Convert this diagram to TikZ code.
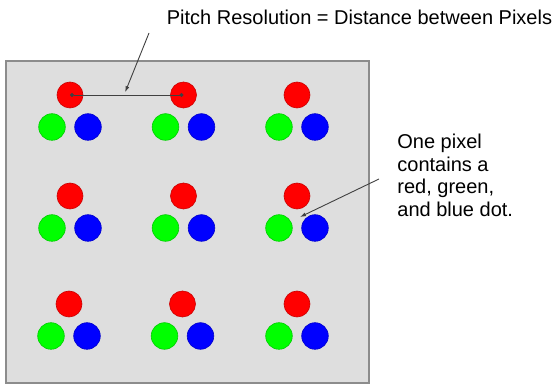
\documentclass[tikz,border=0pt]{standalone}
\usepackage{fontspec}
\setmainfont{Liberation Sans}
\usetikzlibrary{arrows.meta}

\definecolor{screengray}{HTML}{DEDEDE}
\definecolor{screenedge}{HTML}{8C8C8C}
\definecolor{dotred}{HTML}{FF0000}
\definecolor{dotgreen}{HTML}{00FF00}
\definecolor{dotblue}{HTML}{0000FF}

\begin{document}
\begin{tikzpicture}[x=0.5pt,y=-0.5pt]
\tikzstyle{reddot}=[circle,fill=dotred,draw=dotred!80!black,line width=0.3pt,minimum size=13pt,inner sep=0pt]
\tikzstyle{greendot}=[circle,fill=dotgreen,draw=dotgreen!80!black,line width=0.3pt,minimum size=13.3pt,inner sep=0pt]
\tikzstyle{bluedot}=[circle,fill=dotblue,draw=dotblue!80!black,line width=0.3pt,minimum size=13.3pt,inner sep=0pt]
\tikzstyle{pointer}=[draw=black!75,line width=0.45pt,-{Latex[length=3pt,width=2pt]}]
\tikzstyle{label}=[font=\fontsize{10}{11.35}\selectfont,inner sep=0pt,align=left]

\useasboundingbox (0,0) rectangle (559,385);

%screen.
\draw[screenedge,fill=screengray,line width=0.6pt] (6,61) rectangle (369,383);

%row 1.
\node[reddot]   (red_1_1)   at (70,95)    {};
\node[greendot] (green_1_1) at (52,127)   {};
\node[bluedot]  (blue_1_1)  at (88,127)   {};
\node[reddot]   (red_1_2)   at (183.5,95) {};
\node[greendot] (green_1_2) at (165.5,127){};
\node[bluedot]  (blue_1_2)  at (201.5,127){};
\node[reddot]   (red_1_3)   at (297,95)   {};
\node[greendot] (green_1_3) at (279,127)  {};
\node[bluedot]  (blue_1_3)  at (315,127)  {};

%row 2.
\node[reddot]   (red_2_1)   at (70,196)    {};
\node[greendot] (green_2_1) at (52,228)    {};
\node[bluedot]  (blue_2_1)  at (88,228)    {};
\node[reddot]   (red_2_2)   at (183.5,196) {};
\node[greendot] (green_2_2) at (165.5,228) {};
\node[bluedot]  (blue_2_2)  at (201.5,228) {};
\node[reddot]   (red_2_3)   at (297,196)   {};
\node[greendot] (green_2_3) at (279,228)   {};
\node[bluedot]  (blue_2_3)  at (315,228)   {};

%row 3.
\node[reddot]   (red_3_1)   at (69,304)    {};
\node[greendot] (green_3_1) at (51,336)    {};
\node[bluedot]  (blue_3_1)  at (87,336)    {};
\node[reddot]   (red_3_2)   at (182.5,304) {};
\node[greendot] (green_3_2) at (164.5,336) {};
\node[bluedot]  (blue_3_2)  at (200.5,336) {};
\node[reddot]   (red_3_3)   at (297,304)   {};
\node[greendot] (green_3_3) at (279,336)   {};
\node[bluedot]  (blue_3_3)  at (315,336)   {};

%pitch.
\draw[black!75,line width=0.45pt,{Circle[length=2pt]}-{Circle[length=2pt]}] (red_1_1.center) -- (red_1_2.center) coordinate[pos=0.476] (pitch_mid);
\node[label,anchor=base west] (pitch_text) at (166.5,25) {Pitch Resolution = Distance between Pixels};
\coordinate (pitch_from) at (149,33);
\draw[pointer,shorten >=1.5pt] (pitch_from) -- (pitch_mid);

%one pixel.
\node[label,anchor=north west] (pixel_text) at (397,133.5) {One pixel\\contains a\\red, green,\\and blue dot.};
\coordinate (pixel_from) at (379,179);
\coordinate (pixel_to) at (300,217);
\draw[pointer] (pixel_from) -- (pixel_to);

\end{tikzpicture}
\end{document}
